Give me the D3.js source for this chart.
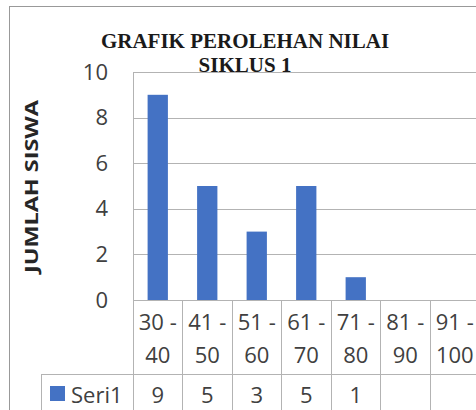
<!DOCTYPE html>
<html>
<head>
<meta charset="utf-8">
<script src="https://cdn.jsdelivr.net/npm/d3@7"></script>
<style>
  body { margin: 0; background: #fff; }
  svg { display: block; }
</style>
</head>
<body>
<div id="chart"></div>
<script>
// Chart data
var categories = ["30 - 40", "41 - 50", "51 - 60", "61 - 70", "71 - 80", "81 - 90", "91 - 100"];
var seriesName = "Seri1";
var values = [9, 5, 3, 5, 1, null, null];
var yTicks = [0, 2, 4, 6, 8, 10];
var titleLines = ["GRAFIK PEROLEHAN NILAI", "SIKLUS 1"];
var yTitle = "JUMLAH SISWA";

var width = 476;
var height = 410;

var plotLeft = 133, plotRight = 479.5, plotTop = 72, plotBottom = 300;
var tableRow1 = 374, tableBottom = 420, legendLeft = 41.5;
var lineColor = "#b3b3b3";
var sansFont = "'Open Sans', sans-serif";

var svg = d3.select('#chart')
    .append('svg')
    .attr('width', width)
    .attr('height', height);

// outer chart border
svg.append('rect')
    .attr('x', 9.5).attr('y', 6.5)
    .attr('width', 500).attr('height', 500)
    .attr('fill', 'none')
    .attr('stroke', '#999');

var x = d3.scaleBand()
    .domain(categories)
    .range([plotLeft, plotRight]);

var y = d3.scaleLinear()
    .domain([0, 10])
    .range([plotBottom, plotTop]);

// y axis with gridlines
var yAxis = d3.axisLeft(y)
    .tickValues(yTicks)
    .tickSize(-(plotRight - plotLeft))
    .tickPadding(25);

var gy = svg.append('g')
    .attr('transform', 'translate(' + plotLeft + ',0)')
    .call(yAxis);
gy.select('.domain').remove();
gy.selectAll('.tick line')
    .attr('stroke', lineColor)
    .attr('shape-rendering', 'crispEdges');
gy.selectAll('.tick text')
    .attr('fill', '#404040')
    .style('font-family', sansFont)
    .style('font-size', '22px');

// plot left border
svg.append('line')
    .attr('x1', plotLeft).attr('x2', plotLeft)
    .attr('y1', plotTop).attr('y2', tableBottom)
    .attr('stroke', lineColor)
    .attr('shape-rendering', 'crispEdges');

// bars
var barWidth = x.bandwidth() * 0.41;
svg.selectAll('rect.bar')
    .data(values.map(function (v, i) { return {cat: categories[i], value: v}; })
        .filter(function (d) { return d.value !== null; }))
    .enter()
    .append('rect')
        .attr('class', 'bar')
        .attr('fill', '#4472c4')
        .attr('x', function (d) { return x(d.cat) + (x.bandwidth() - barWidth) / 2; })
        .attr('width', barWidth)
        .attr('y', function (d) { return y(d.value); })
        .attr('height', function (d) { return y(0) - y(d.value); });

// data table: horizontal lines
svg.append('line')
    .attr('x1', plotLeft).attr('x2', plotRight)
    .attr('y1', plotBottom).attr('y2', plotBottom)
    .attr('stroke', lineColor)
    .attr('shape-rendering', 'crispEdges');
svg.append('line')
    .attr('x1', legendLeft).attr('x2', plotRight)
    .attr('y1', tableRow1).attr('y2', tableRow1)
    .attr('stroke', lineColor)
    .attr('shape-rendering', 'crispEdges');
svg.append('line')
    .attr('x1', legendLeft).attr('x2', legendLeft)
    .attr('y1', tableRow1).attr('y2', tableBottom)
    .attr('stroke', lineColor)
    .attr('shape-rendering', 'crispEdges');

// data table: column lines
svg.selectAll('line.col')
    .data(categories)
    .enter()
    .append('line')
        .attr('class', 'col')
        .attr('x1', function (d) { return x(d) + x.bandwidth(); })
        .attr('x2', function (d) { return x(d) + x.bandwidth(); })
        .attr('y1', plotBottom).attr('y2', tableBottom)
        .attr('stroke', lineColor)
        .attr('shape-rendering', 'crispEdges');

// category labels (wrapped on two lines)
var catText = svg.selectAll('text.cat')
    .data(categories)
    .enter()
    .append('text')
        .attr('class', 'cat')
        .attr('text-anchor', 'middle')
        .attr('fill', '#404040')
        .style('font-family', sansFont)
        .style('font-size', '22px');
catText.append('tspan')
    .attr('x', function (d) { return x(d) + x.bandwidth() / 2; })
    .attr('y', 329.5)
    .text(function (d) { return d.split(' ').slice(0, 2).join(' '); });
catText.append('tspan')
    .attr('x', function (d) { return x(d) + x.bandwidth() / 2; })
    .attr('y', 363)
    .text(function (d) { return d.split(' ')[2]; });

// values row
svg.selectAll('text.val')
    .data(values.map(function (v, i) { return {cat: categories[i], value: v}; }))
    .enter()
    .append('text')
        .attr('class', 'val')
        .attr('text-anchor', 'middle')
        .attr('x', function (d) { return x(d.cat) + x.bandwidth() / 2; })
        .attr('y', 403)
        .attr('fill', '#404040')
        .style('font-family', sansFont)
        .style('font-size', '22px')
        .text(function (d) { return d.value === null ? '' : d.value; });

// legend key in the table
svg.append('rect')
    .attr('x', 50).attr('y', 386)
    .attr('width', 15).attr('height', 15)
    .attr('fill', '#4472c4');
svg.append('text')
    .attr('x', 71)
    .attr('y', 403)
    .attr('fill', '#404040')
    .style('font-family', sansFont)
    .style('font-size', '22px')
    .text(seriesName);

// title
svg.selectAll('text.title')
    .data(titleLines)
    .enter()
    .append('text')
        .attr('class', 'title')
        .attr('text-anchor', 'middle')
        .attr('x', 245)
        .attr('y', function (d, i) { return 48 + i * 24; })
        .attr('fill', '#1a1a1a')
        .style('font-family', "'Liberation Serif', serif")
        .style('font-weight', 'bold')
        .style('font-size', '21px')
        .text(function (d) { return d; });

// y axis title
svg.append('text')
    .attr('transform', 'translate(38,186.5) rotate(-90)')
    .attr('text-anchor', 'middle')
    .attr('fill', '#262626')
    .attr('textLength', 173)
    .attr('lengthAdjust', 'spacingAndGlyphs')
    .style('font-family', sansFont)
    .style('font-weight', 'bold')
    .style('font-size', '18px')
    .text(yTitle);
</script>
</body>
</html>
